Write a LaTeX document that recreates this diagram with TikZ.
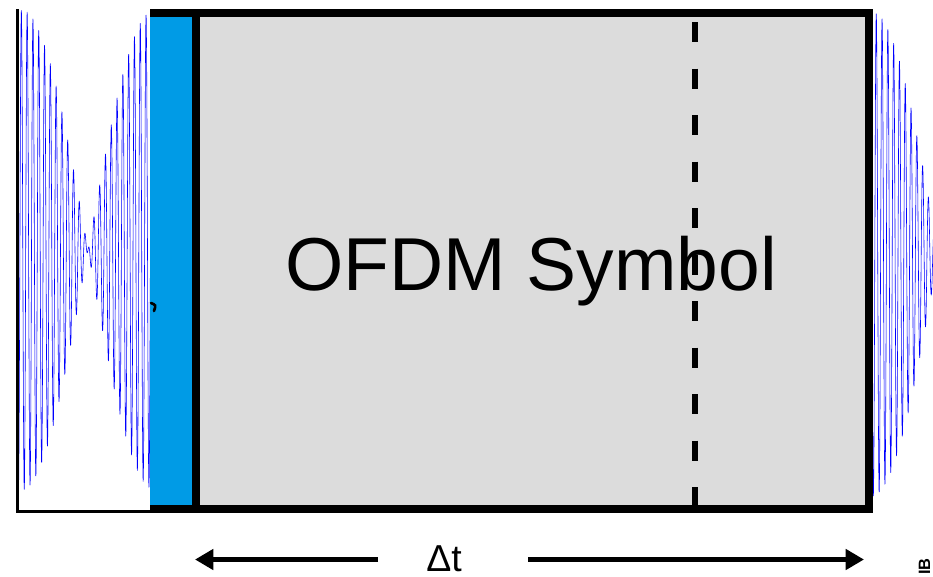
\documentclass[tikz,border=0pt]{standalone}
\usepackage{fontspec}
\setmainfont{Liberation Sans}
\definecolor{CPBlue}{HTML}{009BE6}
\definecolor{SymGray}{HTML}{DCDCDC}
\definecolor{WaveBlue}{HTML}{0000FF}
\usetikzlibrary{arrows.meta}

\begin{document}
\begin{tikzpicture}[x=0.03cm, y=-0.03cm,
    wave/.style={WaveBlue, line width=0.5pt, line join=round},
    frame/.style={line width=0.24cm},
    span/.style={line width=0.15cm, -{Triangle[length=0.55cm, width=0.6cm]}}]
    \useasboundingbox (0,0) rectangle (933,576);
    % signal before and after the symbol
    \draw[wave] plot[domain=17:151, samples=700]
      (\x, {250 - 240*sin((\x-88)/133*180)*sin((\x-17)/5.8*360)});
    \draw[wave] plot[domain=869:935, samples=350]
      (\x, {254 + 242*sin((\x-938.5)/133*180)*sin((\x-869)/5.8*360)});
    \draw[line width=0.09cm] (17.5,9) -- (17.5,511.5) -- (150,511.5);
    % cyclic prefix and symbol
    \fill[CPBlue] (150,13) rectangle (196,509);
    \fill[SymGray] (196,13) rectangle (869,509);
    \draw[line width=0.18cm, dash pattern=on 0.6cm off 0.795cm] (695,22) -- (695,509);
    \node[anchor=base, font=\fontsize{64}{70}\selectfont] (sym) at (531,290) {OFDM Symbol};
    \draw[frame] (150,13) -- (869,13) -- (869,509) -- (150,509);
    \draw[frame] (196,13) -- (196,509);
    \draw[line width=0.08cm, line cap=round] (151,303) .. controls (156,305) .. (154,311);
    % duration
    \node[anchor=base, inner sep=0pt, font=\fontsize{32}{36}\selectfont] (dt) at (444,571) {Δt};
    \coordinate (dtl) at (195,559.5);
    \coordinate (dtr) at (864,559.5);
    \draw[span] ([xshift=-1.98cm]dt.center |- dtl) -- (dtl);
    \draw[span] ([xshift=2.52cm]dt.center |- dtr) -- (dtr);
    \node[rotate=90, anchor=base west, inner sep=0pt, font=\bfseries\fontsize{14}{16}\selectfont] (ib) at (930,575) {IB};
\end{tikzpicture}
\end{document}
